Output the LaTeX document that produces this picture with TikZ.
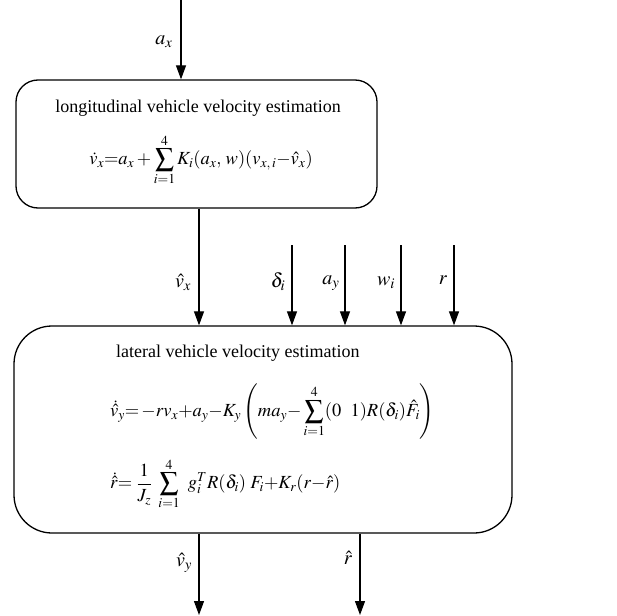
\documentclass[tikz,border=0pt]{standalone}
\usepackage{amsmath}
\usepackage{mathptmx}
\usepackage{fontspec}
\setmainfont{Liberation Serif}
\usetikzlibrary{arrows.meta,positioning}

\begin{document}
\begin{tikzpicture}[
    x=1pt, y=-1pt,
    font=\fontsize{18}{22}\selectfont,
    block/.style  = {draw, line width=1.3pt, rounded corners=22pt, inner sep=0pt},
    signal/.style = {line width=1.2pt, -{Triangle[length=14pt,width=10pt]}},
    lab/.style    = {inner sep=0pt, font=\fontsize{20}{24}\selectfont},
    eq/.style     = {inner sep=0pt, font=\fontsize{18.5}{22}\selectfont}
  ]
\useasboundingbox (0,0) rectangle (617,615);

% =========================================================
% Blocks
% =========================================================
\node[block, minimum width=361pt, minimum height=128pt] (long) at (196.5,144) {};
\node[inner sep=0pt] (longtitle) at (198,108) {longitudinal vehicle velocity estimation};
\node[eq] (longeq) at (201,160)
  {$\dot{v}_x{=}a_x + \displaystyle\sum_{i=1}^{4} K_i(a_x,\, w)(v_{x,\,i}{-}\hat{v}_x)$};

\node[block, rounded corners=38pt, minimum width=498pt, minimum height=207pt] (lat) at (263,429.5) {};
\node[inner sep=0pt, anchor=west] (lattitle) at (116,353) {lateral vehicle velocity estimation};
\node[eq, anchor=west] (lateq1) at (110,412)
  {$\dot{\hat{v}}_y{=}\,{-}rv_x{+}a_y{-}K_y\left(ma_y{-}\displaystyle\sum_{i=1}^{4}(0\ \ 1)R(\delta_i)\hat{F}_i\right)$};
\node[eq, anchor=west] (lateq2) at (110,484)
  {$\dot{\hat{r}}{=}\;\dfrac{1}{J_z}\;\displaystyle\sum_{i=1}^{4}\;\, g_i^T R(\delta_i)\;F_i{+}K_r(r{-}\hat{r})$};

% =========================================================
% Inputs and outputs
% =========================================================
\coordinate (ax) at (181,0);
\coordinate (vx) at (199,0);
\coordinate (de) at (292,245);
\coordinate (ay) at (345,245);
\coordinate (wi) at (401,245);
\coordinate (rr) at (454,245);
\coordinate (vyout) at (199,615);
\coordinate (rout) at (360,615);

\draw[signal] (ax) -- (ax |- long.north);
\draw[signal] (vx |- long.south) -- (vx |- lat.north);
\foreach \c in {de, ay, wi, rr} {\draw[signal] (\c) -- (\c |- lat.north);}
\draw[signal] (vyout |- lat.south) -- (vyout);
\draw[signal] (rout |- lat.south) -- (rout);

% labels
\node[lab] (axl) at (164,42) {$a_x$};
\node[lab] (vxl) at (183,282) {$\hat{v}_x$};
\node[lab] (del) at (278,282) {$\delta_i$};
\node[lab] (ayl) at (331,283) {$a_y$};
\node[lab] (wil) at (386,283) {$w_i$};
\node[lab] (rl)  at (443,280) {$r$};
\node[lab] (vyl) at (184,563) {$\hat{v}_y$};
\node[lab] (rhl) at (348,558) {$\hat{r}$};

\end{tikzpicture}
\end{document}
